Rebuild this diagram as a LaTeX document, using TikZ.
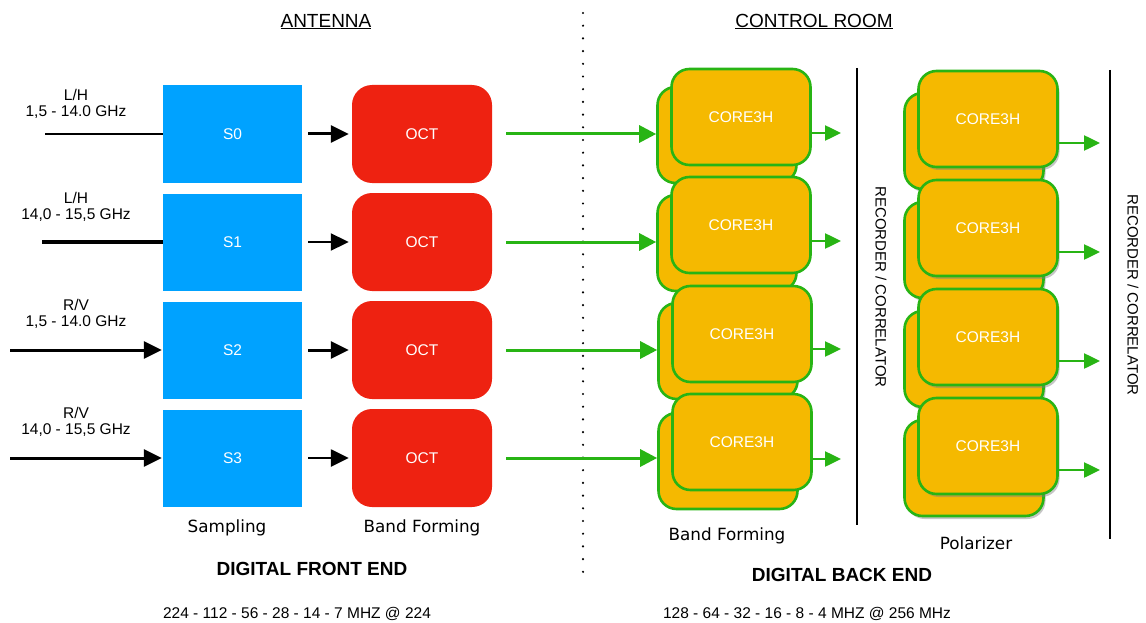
\documentclass[tikz,border=0pt]{standalone}
\usepackage{fontspec}
\setmainfont{Liberation Sans}
\newfontfamily\labelfont{DejaVu Sans}
\usetikzlibrary{arrows.meta,shadows}

\definecolor{sampblue}{RGB}{0,162,255}
\definecolor{octred}{RGB}{238,34,17}
\definecolor{coreyellow}{RGB}{245,185,0}
\definecolor{coregreen}{RGB}{40,180,20}

\tikzset{
  boxtext/.style={text=white, font=\fontsize{15.5}{18}\selectfont},
  sampbox/.style={boxtext, fill=sampblue, minimum width=139pt, minimum height=97pt, inner sep=0pt},
  octbox/.style={boxtext, fill=octred, rounded corners=20pt, minimum width=140pt, minimum height=98pt, inner sep=0pt},
  corebox/.style={boxtext, fill=coreyellow, draw=coregreen, line width=2.6pt, rounded corners=18pt, minimum width=139pt, minimum height=96pt, inner sep=0pt},
  polbox/.style={corebox, drop shadow={shadow xshift=2pt, shadow yshift=-3pt, opacity=.45}},
  freqlabel/.style={align=center, font=\fontsize{15.5}{16.5}\selectfont},
  stagelabel/.style={font=\labelfont\fontsize{16.8}{19}\selectfont},
  titlelabel/.style={font=\fontsize{19}{22}\selectfont},
  endlabel/.style={font=\bfseries\fontsize{19}{22}\selectfont},
  ratelabel/.style={font=\fontsize{15.5}{18}\selectfont},
  reclabel/.style={rotate=-90, font=\fontsize{15}{18}\selectfont},
  blkarrow/.style={draw=black, line width=3pt, -{Triangle[length=18pt,width=17pt]}},
  grnarrow/.style={draw=coregreen, line width=3pt, -{Triangle[length=17pt,width=17pt]}},
  outarrow/.style={draw=coregreen, line width=2.5pt, -{Triangle[length=16pt,width=15pt]}}
}

\begin{document}
\begin{tikzpicture}[x=1pt, y=-1pt]
            \useasboundingbox (0,0) rectangle (1146,623);

            % Titles
            \node[titlelabel] (ant) at (326,21.5) {\underline{ANTENNA}};
            \node[titlelabel] (ctrl) at (814,21.5) {\underline{CONTROL ROOM}};
            \coordinate (dtop) at (583,13);
            \coordinate (dbot) at (583,575);
            \draw[line width=2.4pt, line cap=round, dash pattern=on 0pt off 12.7pt] (dtop) -- (dbot);

            % Inputs
            \coordinate (in0) at (45,134);
            \coordinate (in1) at (42,242);
            \coordinate (in2) at (10,350);
            \coordinate (in3) at (10,458);
            \node[freqlabel] (lab0) at (76,104) {L/H\\1,5 - 14.0 GHz};
            \node[freqlabel] (lab1) at (76,207) {L/H\\14,0 - 15,5 GHz};
            \node[freqlabel] (lab2) at (76,314) {R/V\\1,5 - 14.0 GHz};
            \node[freqlabel] (lab3) at (76,422) {R/V\\14,0 - 15,5 GHz};

            % Sampling
            \node[sampbox] (s0) at (232.5,134) {S0};
            \node[sampbox] (s1) at (232.5,242) {S1};
            \node[sampbox] (s2) at (232.5,350) {S2};
            \node[sampbox] (s3) at (232.5,458) {S3};

            % Band forming (antenna)
            \node[octbox] (oct0) at (422,134) {OCT};
            \node[octbox] (oct1) at (422,242) {OCT};
            \node[octbox] (oct2) at (422,350) {OCT};
            \node[octbox] (oct3) at (422,458) {OCT};

            % Band forming (control room)
            \node[corebox] (bfb0) at (727,135) {};
            \node[corebox] (bf0) at (741,117) {CORE3H};
            \node[corebox] (bfb1) at (727,243) {};
            \node[corebox] (bf1) at (741,225) {CORE3H};
            \node[corebox] (bfb2) at (728,351) {};
            \node[corebox] (bf2) at (742,334) {CORE3H};
            \node[corebox] (bfb3) at (728,461) {};
            \node[corebox] (bf3) at (742,442) {CORE3H};
            \coordinate (bo0) at (841,133);
            \coordinate (bo1) at (841,241);
            \coordinate (bo2) at (841,349);
            \coordinate (bo3) at (841,459);

            % Polarizer
            \node[polbox] (plb0) at (974,141) {};
            \node[polbox] (pl0) at (988,119) {CORE3H};
            \node[polbox] (plb1) at (974,250) {};
            \node[polbox] (pl1) at (988,228) {CORE3H};
            \node[polbox] (plb2) at (974,359) {};
            \node[polbox] (pl2) at (988,337) {CORE3H};
            \node[polbox] (plb3) at (974,468) {};
            \node[polbox] (pl3) at (988,446) {CORE3H};
            \coordinate (po0) at (1100,143);
            \coordinate (po1) at (1100,252);
            \coordinate (po2) at (1100,361);
            \coordinate (po3) at (1100,470);

            % Recorder / correlator
            \coordinate (r1t) at (857,68);
            \coordinate (r1b) at (857,525);
            \coordinate (r2t) at (1110,70);
            \coordinate (r2b) at (1110,539);
            \draw[line width=2pt] (r1t) -- (r1b);
            \draw[line width=2pt] (r2t) -- (r2b);
            \node[reclabel] (rec1) at (881,287) {RECORDER / CORRELATOR};
            \node[reclabel] (rec2) at (1133,295) {RECORDER / CORRELATOR};

            % Edges
            \path (in0) edge[draw, line width=2.5pt] (s0);
            \path (in1) edge[draw, line width=3.5pt] (s1);
            \path (in2) edge[blkarrow, shorten >=1pt] (s2);
            \path (in3) edge[blkarrow, shorten >=1pt] (s3);

            \path (s0) edge[blkarrow, shorten <=6pt, shorten >=3pt] (oct0);
            \path (s1) edge[blkarrow, line width=2pt, shorten <=6pt, shorten >=3pt] (oct1);
            \path (s2) edge[blkarrow, shorten <=6pt, shorten >=3pt] (oct2);
            \path (s3) edge[blkarrow, line width=2.5pt, shorten <=6pt, shorten >=3pt] (oct3);

            \path (oct0) edge[grnarrow, shorten <=14pt] (bfb0.west |- oct0);
            \path (oct1) edge[grnarrow, shorten <=14pt] (bfb1.west |- oct1);
            \path (oct2) edge[grnarrow, shorten <=14pt] (bfb2.west |- oct2);
            \path (oct3) edge[grnarrow, shorten <=14pt] (bfb3.west |- oct3);

            \path (bf0.east |- bo0) edge[outarrow] (bo0);
            \path (bf1.east |- bo1) edge[outarrow] (bo1);
            \path (bf2.east |- bo2) edge[outarrow] (bo2);
            \path (bf3.east |- bo3) edge[outarrow] (bo3);

            \path (pl0.east |- po0) edge[outarrow] (po0);
            \path (pl1.east |- po1) edge[outarrow] (po1);
            \path (pl2.east |- po2) edge[outarrow] (po2);
            \path (pl3.east |- po3) edge[outarrow] (po3);

            % Labels
            \node[stagelabel] (samp) at (227,528) {Sampling};
            \node[stagelabel] (bfa) at (422,528) {Band Forming};
            \node[stagelabel] (bfc) at (727,536) {Band Forming};
            \node[stagelabel] (pol) at (976,543) {Polarizer};
            \node[endlabel] (dfe) at (312,569) {DIGITAL FRONT END};
            \node[endlabel] (dbe) at (842,575) {DIGITAL BACK END};
            \node[ratelabel] (rate1) at (297,614) {224 - 112 - 56 - 28 - 14 - 7 MHZ @ 224};
            \node[ratelabel] (rate2) at (807,614) {128 - 64 - 32 - 16 - 8 - 4 MHZ @ 256 MHz};
        \end{tikzpicture}
\end{document}
